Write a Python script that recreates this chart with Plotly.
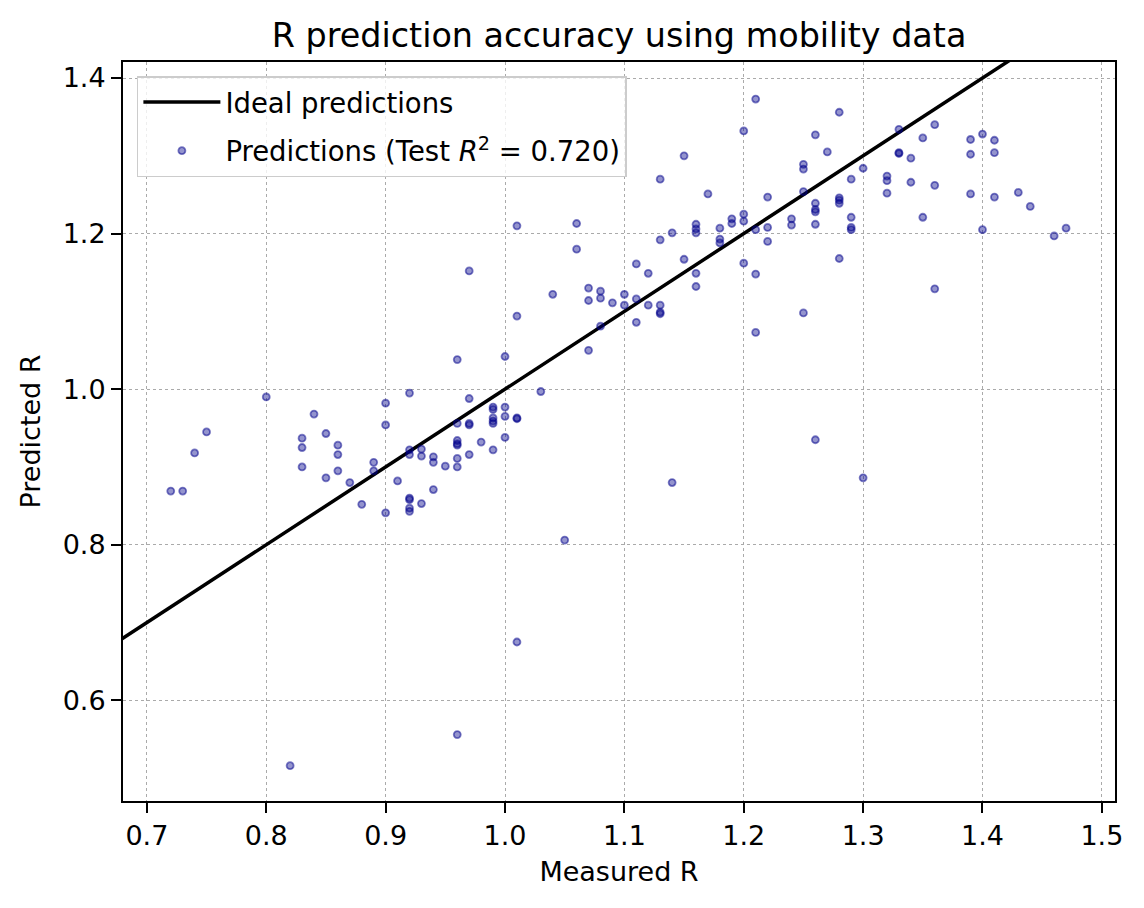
import plotly.graph_objects as go

# measured vs predicted R
measured_r = [0.72, 0.73, 0.74, 0.75, 0.80, 0.82, 0.83, 0.83, 0.83, 0.84,
              0.85, 0.85, 0.86, 0.86, 0.86, 0.87, 0.88, 0.89, 0.89, 0.90,
              0.90, 0.90, 0.91, 0.92, 0.92, 0.92, 0.92, 0.92, 0.92, 0.92,
              0.93, 0.93, 0.93, 0.94, 0.94, 0.94, 0.95, 0.96, 0.96, 0.96,
              0.96, 0.96, 0.96, 0.96, 0.96, 0.97, 0.97, 0.97, 0.97, 0.97,
              0.98, 0.99, 0.99, 0.99, 0.99, 0.99, 0.99, 1.00, 1.00, 1.00,
              1.00, 1.01, 1.01, 1.01, 1.01, 1.01, 1.03, 1.04, 1.05, 1.06,
              1.06, 1.07, 1.07, 1.07, 1.08, 1.08, 1.08, 1.09, 1.10, 1.10,
              1.11, 1.11, 1.11, 1.12, 1.12, 1.13, 1.13, 1.13, 1.13, 1.13,
              1.14, 1.14, 1.15, 1.15, 1.16, 1.16, 1.16, 1.16, 1.16, 1.17,
              1.18, 1.18, 1.18, 1.19, 1.19, 1.20, 1.20, 1.20, 1.20, 1.21,
              1.21, 1.21, 1.21, 1.22, 1.22, 1.22, 1.24, 1.24, 1.25, 1.25,
              1.25, 1.25, 1.26, 1.26, 1.26, 1.26, 1.26, 1.26, 1.27, 1.28,
              1.28, 1.28, 1.28, 1.28, 1.29, 1.29, 1.29, 1.29, 1.30, 1.30,
              1.32, 1.32, 1.32, 1.33, 1.33, 1.33, 1.34, 1.34, 1.35, 1.35,
              1.36, 1.36, 1.36, 1.39, 1.39, 1.39, 1.40, 1.40, 1.41, 1.41,
              1.41, 1.43, 1.44, 1.46, 1.47]
predicted_r = [0.869, 0.869, 0.918, 0.945, 0.990, 0.516, 0.937, 0.925, 0.900, 0.968,
               0.943, 0.886, 0.928, 0.916, 0.895, 0.880, 0.852, 0.906, 0.895, 0.982,
               0.954, 0.841, 0.882, 0.995, 0.922, 0.916, 0.860, 0.858, 0.847, 0.843,
               0.923, 0.914, 0.853, 0.913, 0.906, 0.871, 0.901, 1.038, 0.956, 0.934,
               0.930, 0.928, 0.911, 0.900, 0.556, 1.152, 0.988, 0.956, 0.954, 0.916,
               0.932, 0.977, 0.974, 0.963, 0.959, 0.956, 0.922, 1.042, 0.977, 0.965,
               0.938, 1.210, 1.094, 0.963, 0.962, 0.675, 0.997, 1.122, 0.806, 1.213,
               1.180, 1.130, 1.114, 1.050, 1.126, 1.117, 1.081, 1.111, 1.122, 1.108,
               1.161, 1.116, 1.086, 1.149, 1.108, 1.270, 1.192, 1.108, 1.099, 1.097,
               1.201, 0.880, 1.300, 1.167, 1.212, 1.206, 1.201, 1.149, 1.132, 1.251,
               1.207, 1.193, 1.188, 1.219, 1.213, 1.332, 1.225, 1.216, 1.162, 1.373,
               1.205, 1.148, 1.073, 1.247, 1.208, 1.190, 1.219, 1.211, 1.289, 1.283,
               1.254, 1.098, 1.327, 1.239, 1.231, 1.228, 1.212, 0.935, 1.305, 1.356,
               1.246, 1.243, 1.239, 1.168, 1.270, 1.221, 1.208, 1.205, 1.284, 0.886,
               1.274, 1.268, 1.252, 1.334, 1.304, 1.303, 1.297, 1.266, 1.323, 1.221,
               1.340, 1.262, 1.129, 1.321, 1.302, 1.251, 1.328, 1.205, 1.320, 1.304,
               1.247, 1.253, 1.235, 1.197, 1.207]
ideal_x = [0.6, 1.6]
ideal_y = [0.6, 1.6]
r2_test = 0.720

x_ticks = [0.7, 0.8, 0.9, 1.0, 1.1, 1.2, 1.3, 1.4, 1.5]
y_ticks = [0.6, 0.8, 1.0, 1.2, 1.4]

font = 'DejaVu Sans'

# page body keeps its 8px default margin, so the figure is 8px smaller
W, H = 1136, 900

fig = go.Figure()
fig.add_trace(go.Scatter(x=ideal_x, y=ideal_y, mode='lines',
                         name='Ideal predictions', legendgroup='ideal',
                         line={'color': 'black', 'width': 3.5}))
fig.add_trace(go.Scatter(x=measured_r, y=predicted_r, mode='markers',
                         name='Predictions (Test <i>R</i><sup>2</sup> = %.3f)' % r2_test,
                         legendgroup='pred',
                         marker={'size': 7,
                                 'color': 'rgba(0,0,139,0.42)',
                                 'line': {'color': 'rgba(0,0,139,0.5)', 'width': 1.8}}))

axis_common = {'showline': True, 'linecolor': 'black', 'linewidth': 2, 'mirror': True,
               'ticks': 'outside', 'ticklen': 10, 'tickwidth': 2, 'tickcolor': 'black',
               'showgrid': True, 'gridcolor': '#aaaaaa', 'gridwidth': 1.3, 'griddash': 'dot',
               'zeroline': False, 'tickformat': '.1f', 'automargin': False,
               'tickfont': {'family': font, 'size': 27, 'color': 'black'}}

fig.update_layout(
    width=W, height=H,
    margin={'l': 115, 'r': 29, 't': 54, 'b': 107},
    plot_bgcolor='white', paper_bgcolor='white',
    title={'text': 'R prediction accuracy using mobility data',
           'font': {'family': font, 'size': 33.4, 'color': 'black'},
           'x': (619 - 8) / W, 'xref': 'container', 'xanchor': 'center',
           'y': 1 - 27 / H, 'yref': 'container', 'yanchor': 'middle'},
    xaxis={**axis_common, 'range': [0.68, 1.511], 'tickvals': x_ticks,
           'title': {'text': 'Measured R', 'standoff': 12,
                     'font': {'family': font, 'size': 27, 'color': 'black'}}},
    yaxis={**axis_common, 'range': [0.4706, 1.4206], 'tickvals': y_ticks,
           'title': {'text': 'Predicted R', 'standoff': 14,
                     'font': {'family': font, 'size': 27, 'color': 'black'}}},
    legend={'x': 0.014, 'y': 0.981, 'xanchor': 'left', 'yanchor': 'top',
            'bgcolor': 'rgba(255,255,255,0.8)', 'bordercolor': '#cccccc', 'borderwidth': 1.5,
            'itemwidth': 77, 'tracegroupgap': 10,
            'font': {'family': font, 'size': 27.5, 'color': 'black'}},
    showlegend=True
)

fig.write_html('out.html')
